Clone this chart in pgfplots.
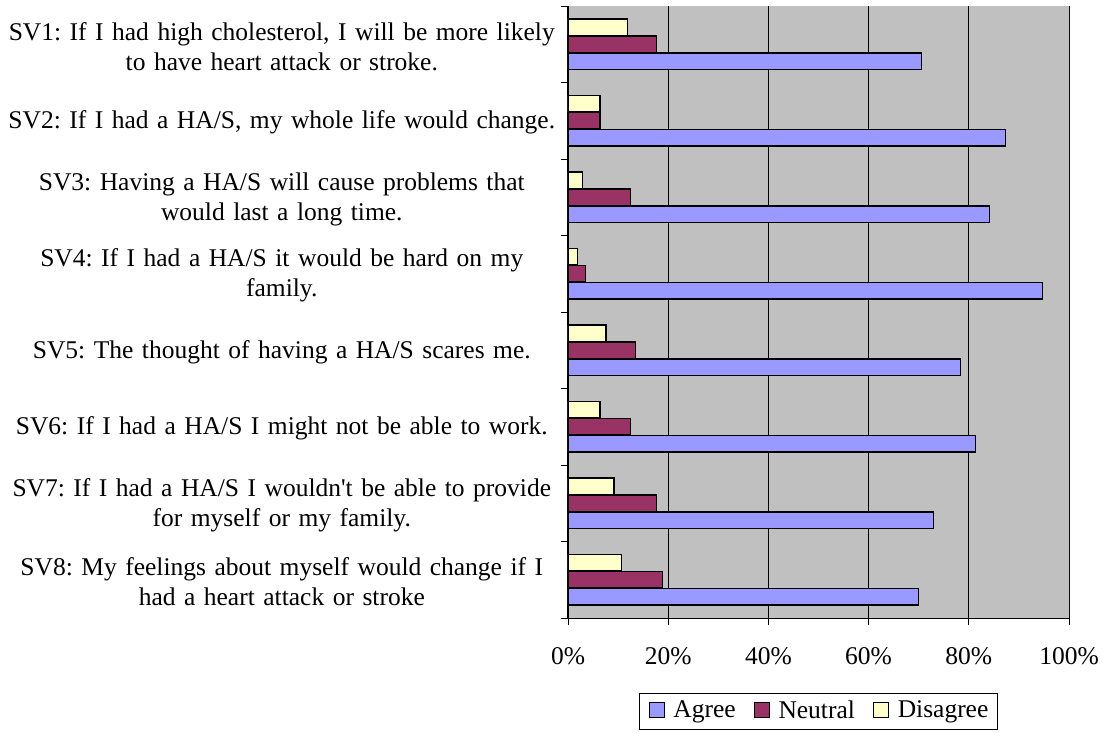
\documentclass[border=0pt]{standalone}
\usepackage{pgfplots}
\pgfplotsset{compat=1.18}
\usepackage{fontspec}
\setmainfont{Liberation Serif}

\definecolor{agree}{HTML}{9999FF}
\definecolor{neutral}{HTML}{993366}
\definecolor{disagree}{HTML}{FFFFCC}
\definecolor{plotbg}{HTML}{C0C0C0}

% y = 1 is SV8 (bottom), y = 8 is SV1 (top)
\pgfplotstableread{
y agree neutral disagree
1 70.0 18.8 10.6
2 72.9 17.6 9.2
3 81.3 12.5 6.4
4 78.4 13.5 7.6
5 94.7 3.5 1.9
6 84.2 12.5 2.9
7 87.4 6.4 6.4
8 70.6 17.6 11.9
}\survey

\newcommand{\bigfont}{\fontsize{25.5}{30}\selectfont}

\begin{document}
\frenchspacing
\bigfont
\begin{tikzpicture}[x=1pt,y=1pt]
\path[use as bounding box] (0,0) rectangle (1106,732);
\begin{axis}[
  at={(568pt,114pt)}, anchor=south west,
  scale only axis, width=501pt, height=612pt,
  xbar, bar width=16.5pt,
  xmin=0, xmax=100, ymin=0.5, ymax=8.5,
  axis background/.style={fill=plotbg},
  axis lines*=left,
  axis line style={black, line width=1pt},
  xtick={0,20,...,100},
  xticklabels={0\%,20\%,40\%,60\%,80\%,100\%},
  ytick={0.5,1.5,...,8.5}, yticklabels={},
  extra y ticks={1,...,8},
  extra y tick labels={
    {SV8: My feelings about myself would change if I\\had a heart attack or stroke},
    {SV7: If I had a HA/S I wouldn\textquotesingle t be able to provide\\for myself or my family.},
    {SV6: If I had a HA/S I might not be able to work.},
    {SV5: The thought of having a HA/S scares me.},
    {SV4: If I had a HA/S it would be hard on my\\family.},
    {SV3: Having a HA/S will cause problems that\\would last a long time.},
    {SV2: If I had a HA/S, my whole life would change.},
    {SV1: If I had high cholesterol, I will be more likely\\to have heart attack or stroke.}
  },
  extra y tick style={major tick length=0pt,
    yticklabel style={align=center, text width=552pt, anchor=east,
      inner sep=0pt, xshift=-10pt, yshift=-2pt}},
  tick align=outside, major tick length=7pt,
  tick style={black, line width=0.8pt},
  xmajorgrids, grid style={black, line width=0.9pt},
  tick label style={font=\bigfont},
  xticklabel style={yshift=-14pt},
  legend columns=3,
  legend style={at={(0.5,-0.122)}, anchor=north, draw=black,
    line width=0.6pt, font=\bigfont, inner xsep=9pt, inner ysep=4.5pt,
    nodes={inner xsep=0pt, inner ysep=3pt},
    /tikz/every odd column/.append style={column sep=9pt},
    /tikz/every even column/.append style={column sep=18pt}},
  legend image code/.code={\draw[#1, draw=black, line width=0.8pt] (0pt,-6pt) rectangle (15pt,9pt);},
]
\addplot[fill=agree, draw=black, line width=1.2pt, bar shift=-17pt] table[x=agree, y=y] {\survey};
\addplot[fill=neutral, draw=black, line width=1.2pt, bar shift=0pt] table[x=neutral, y=y] {\survey};
\addplot[fill=disagree, draw=black, line width=1.2pt, bar shift=17pt] table[x=disagree, y=y] {\survey};
\legend{Agree, Neutral, Disagree}
\draw[gray!70!black, line width=1pt] (axis cs:100,0.5) -- (axis cs:100,8.5);
\end{axis}
\end{tikzpicture}
\end{document}
